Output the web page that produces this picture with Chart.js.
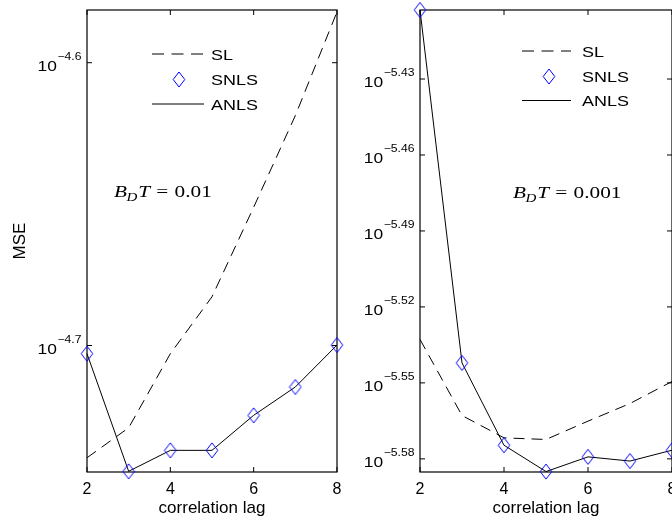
<!DOCTYPE html>
<html>
<head>
<meta charset="utf-8">
<title>MSE vs correlation lag</title>
<script src="https://cdn.jsdelivr.net/npm/chart.js@4.4.1/dist/chart.umd.min.js"></script>
<style>
  html, body { margin: 0; padding: 0; background: #fff; overflow: hidden; }
  body { width: 672px; height: 524px; position: relative; }
  canvas { position: absolute; top: 0; }
  #lagLeft { left: 0; }
  #lagRight { left: 345px; }
</style>
</head>
<body>
<canvas id="lagLeft" width="345" height="524"></canvas>
<canvas id="lagRight" width="335" height="524"></canvas>
<script>
// --- data ---
const lags = [2, 3, 4, 5, 6, 7, 8];
const xTicks = [2, 4, 6, 8];

// B_D T = 0.01
const slMse01   = [1.821e-5, 1.866e-5, 1.982e-5, 2.076e-5, 2.233e-5, 2.406e-5, 2.618e-5];
const snlsMse01 = [1.982e-5, 1.801e-5, 1.832e-5, 1.832e-5, 1.885e-5, 1.929e-5, 1.996e-5];
const anlsMse01 = [1.982e-5, 1.801e-5, 1.832e-5, 1.832e-5, 1.885e-5, 1.929e-5, 1.996e-5];
const yTickExp01 = [-4.7, -4.6];
const yRange01 = [1.800e-5, 2.622e-5];

// B_D T = 0.001
const slMse001   = [2.932e-6, 2.736e-6, 2.681e-6, 2.677e-6, 2.722e-6, 2.766e-6, 2.822e-6];
const snlsMse001 = [3.956e-6, 2.870e-6, 2.663e-6, 2.600e-6, 2.635e-6, 2.625e-6, 2.651e-6];
const anlsMse001 = [3.956e-6, 2.870e-6, 2.663e-6, 2.600e-6, 2.635e-6, 2.625e-6, 2.651e-6];
const yTickExp001 = [-5.58, -5.55, -5.52, -5.49, -5.46, -5.43];
const yRange001 = [2.599e-6, 3.956e-6];

const SANS = '"Liberation Sans", Arial, Helvetica, sans-serif';
const SERIF = '"Liberation Serif", "Times New Roman", serif';
const hText = 1.16;   // text is drawn a little wide

// hollow blue diamond used for SNLS markers and its key entry
const diamond = document.createElement('canvas');
diamond.width = 14;
diamond.height = 17;
(() => {
    const dc = diamond.getContext('2d');
    dc.strokeStyle = '#0000ff';
    dc.lineWidth = 1;
    dc.beginPath();
    dc.moveTo(7, 1);
    dc.lineTo(12.8, 8.5);
    dc.lineTo(7, 16);
    dc.lineTo(1.2, 8.5);
    dc.closePath();
    dc.stroke();
})();

function wideText(ctx, str, x, y, font, sx = hText) {
    ctx.save();
    ctx.font = font;
    ctx.fillStyle = '#000';
    ctx.textAlign = 'left';
    ctx.textBaseline = 'alphabetic';
    ctx.translate(x, y);
    ctx.scale(sx, 1);
    ctx.fillText(str, 0, 0);
    const w = ctx.measureText(str).width * sx;
    ctx.restore();
    return w;
}

function wideWidth(ctx, str, font) {
    ctx.save();
    ctx.font = font;
    const w = ctx.measureText(str).width * hText;
    ctx.restore();
    return w;
}

// box round the axes, inward ticks on all four sides, 10^x tick labels
const frame = {
    id: 'frame',
    beforeDatasetsDraw(chart) {
        const { ctx, chartArea: a, scales: { x, y } } = chart;
        ctx.save();
        ctx.strokeStyle = '#000';
        ctx.lineWidth = 1.2;
        ctx.strokeRect(a.left, a.top, a.right - a.left, a.bottom - a.top);
        ctx.lineWidth = 1;
        ctx.beginPath();
        x.ticks.forEach(t => {
            const px = x.getPixelForValue(t.value);
            ctx.moveTo(px, a.bottom); ctx.lineTo(px, a.bottom - 5);
            ctx.moveTo(px, a.top); ctx.lineTo(px, a.top + 5);
        });
        y.ticks.forEach(t => {
            const py = y.getPixelForValue(t.value);
            ctx.moveTo(a.left, py); ctx.lineTo(a.left + 5, py);
            ctx.moveTo(a.right, py); ctx.lineTo(a.right - 5, py);
        });
        ctx.stroke();
        ctx.restore();

        const f10 = '15px ' + SANS;
        const fSup = '10.5px ' + SANS;
        y.ticks.forEach(t => {
            const py = y.getPixelForValue(t.value);
            const e = Math.round(Math.log10(t.value) * 100) / 100;
            const sup = '\u2212' + Math.abs(e);
            const w10 = wideWidth(ctx, '10', f10);
            const wSup = wideWidth(ctx, sup, fSup);
            const x0 = a.left - 6 - w10 - wSup;
            wideText(ctx, '10', x0, py + 8, f10);
            wideText(ctx, sup, x0 + w10 + 0.5, py - 3, fSup);
        });
    }
};

// key without a box: dashed SL, diamond SNLS, solid ANLS
const keyBox = {
    id: 'keyBox',
    afterDatasetsDraw(chart, args, o) {
        const ctx = chart.ctx;
        const [r0, r1, r2] = o.rows;
        ctx.save();
        ctx.strokeStyle = '#000';
        ctx.lineWidth = 1;
        ctx.setLineDash([12, 7.5]);
        ctx.beginPath();
        ctx.moveTo(o.x0, r0); ctx.lineTo(o.x1, r0);
        ctx.stroke();
        ctx.setLineDash([]);
        ctx.beginPath();
        ctx.moveTo(o.x0, r2); ctx.lineTo(o.x1, r2);
        ctx.stroke();
        ctx.drawImage(diamond, o.mark - 7, r1 - 8.5);
        ctx.restore();

        const font = '15.5px ' + SANS;
        chart.data.datasets.forEach((ds, i) => {
            wideText(ctx, ds.label, o.text, o.rows[i] + 5.5, font);
        });
    }
};

// B_D T = ... annotation
const bdt = {
    id: 'bdt',
    afterDatasetsDraw(chart, args, o) {
        const ctx = chart.ctx;
        const sx = 1.25;
        const it = 'italic 17px ' + SERIF;
        const sub = 'italic 12px ' + SERIF;
        const up = '17px ' + SERIF;
        let x = o.x;
        x += wideText(ctx, 'B', x, o.y, it, sx);
        x += wideText(ctx, 'D', x - 0.5, o.y + 3.5, sub, sx);
        x += wideText(ctx, 'T', x + 0.5, o.y, it, sx);
        x += 6.5;
        x += wideText(ctx, '=', x, o.y, up, sx);
        x += 6.5;
        wideText(ctx, o.text, x, o.y, up, sx);
    }
};

function points(values) {
    return lags.map((lag, i) => ({ x: lag, y: values[i] }));
}

function lagChart(id, cfg) {
    return new Chart(document.getElementById(id), {
        type: 'line',
        data: {
            datasets: [
                {
                    label: 'SL',
                    data: points(cfg.sl),
                    borderColor: '#000',
                    borderWidth: 1,
                    borderDash: [11, 7],
                    pointRadius: 0,
                    order: 2,
                    clip: false
                },
                {
                    label: 'SNLS',
                    data: points(cfg.snls),
                    showLine: false,
                    pointStyle: diamond,
                    pointRadius: 7,
                    borderColor: '#0000ff',
                    order: 0,
                    clip: false
                },
                {
                    label: 'ANLS',
                    data: points(cfg.anls),
                    borderColor: '#000',
                    borderWidth: 1,
                    pointRadius: 0,
                    order: 1,
                    clip: false
                }
            ]
        },
        options: {
            responsive: false,
            animation: false,
            devicePixelRatio: 1,
            events: [],
            layout: { padding: { top: 10, right: cfg.padRight, left: 0, bottom: 0 } },
            plugins: {
                legend: { display: false },
                tooltip: { enabled: false },
                keyBox: cfg.key,
                bdt: cfg.note
            },
            scales: {
                x: {
                    type: 'linear',
                    min: 2,
                    max: 8,
                    afterBuildTicks: s => { s.ticks = xTicks.map(v => ({ value: v })); },
                    afterFit: s => { s.height = 52; s.paddingLeft = 0; s.paddingRight = 0; },
                    grid: { display: false, drawTicks: false },
                    border: { display: false },
                    ticks: { padding: 8, color: '#000', maxRotation: 0, font: { family: SANS, size: 16 } },
                    title: {
                        display: true,
                        text: 'correlation lag',
                        color: '#000',
                        font: { family: SANS, size: 17 },
                        padding: { top: 0, bottom: 5 }
                    }
                },
                y: {
                    type: 'logarithmic',
                    min: cfg.yRange[0],
                    max: cfg.yRange[1],
                    afterBuildTicks: s => { s.ticks = cfg.yTicks.map(e => ({ value: Math.pow(10, e) })); },
                    afterFit: s => { s.width = cfg.yWidth; s.paddingTop = 0; s.paddingBottom = 0; },
                    grid: { display: false, drawTicks: false },
                    border: { display: false },
                    ticks: { display: false },
                    title: {
                        display: cfg.yTitle,
                        text: 'MSE',
                        color: '#000',
                        font: { family: SANS, size: 17 },
                        padding: { top: 10, bottom: 0 }
                    }
                }
            }
        },
        plugins: [frame, keyBox, bdt]
    });
}

lagChart('lagLeft', {
    sl: slMse01, snls: snlsMse01, anls: anlsMse01,
    yTicks: yTickExp01, yRange: yRange01,
    yWidth: 87, padRight: 5.5, yTitle: true,
    key: { x0: 152, x1: 204, mark: 179, text: 211, rows: [54, 79.5, 104] },
    note: { x: 114, y: 197, text: '0.01' }
});

lagChart('lagRight', {
    sl: slMse001, snls: snlsMse001, anls: anlsMse001,
    yTicks: yTickExp001, yRange: yRange001,
    yWidth: 75, padRight: 7, yTitle: false,
    key: { x0: 177, x1: 226, mark: 204, text: 237, rows: [51, 76.5, 100.5] },
    note: { x: 168, y: 198, text: '0.001' }
});
</script>
</body>
</html>
